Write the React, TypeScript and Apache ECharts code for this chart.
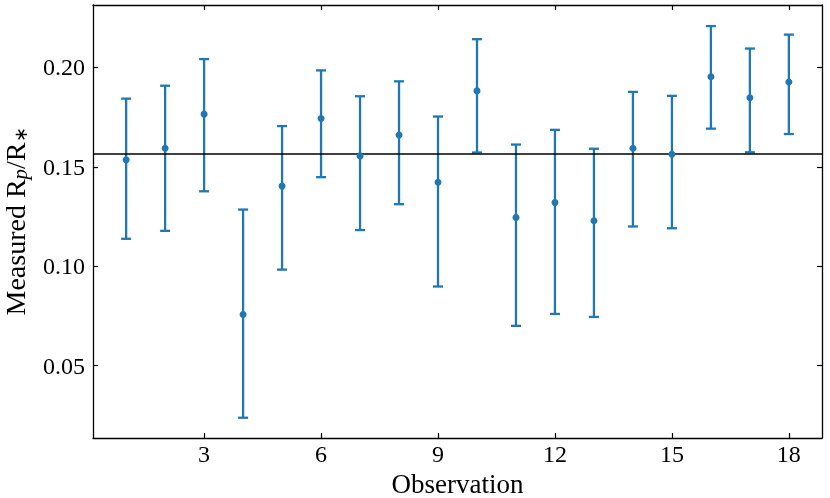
import React, { useEffect, useRef } from "react";
import * as echarts from "echarts";

const observations = [1, 2, 3, 4, 5, 6, 7, 8, 9, 10, 11, 12, 13, 14, 15, 16, 17, 18];
const measured = [0.1535, 0.1593, 0.1765, 0.0757, 0.1403, 0.1743, 0.1555, 0.166, 0.1422, 0.1882, 0.1245, 0.132, 0.1229, 0.1593, 0.1563, 0.1953, 0.1847, 0.1927];
const lowerBound = [0.1138, 0.1178, 0.1377, 0.0238, 0.0983, 0.1448, 0.1182, 0.1312, 0.0898, 0.1572, 0.07, 0.076, 0.0745, 0.12, 0.1191, 0.1692, 0.1573, 0.1665];
const upperBound = [0.1843, 0.1908, 0.2042, 0.1285, 0.1705, 0.1985, 0.1855, 0.193, 0.1753, 0.2142, 0.1612, 0.1686, 0.1591, 0.1877, 0.1857, 0.2208, 0.2095, 0.2165];
const referenceLevel = 0.1564;
const xTicks = [3, 6, 9, 12, 15, 18];
const yTicks = [0.05, 0.1, 0.15, 0.2];

const BLUE = "#1f77b4";
const FONT = "Liberation Serif";

export default function App() {
  const ref = useRef<HTMLDivElement>(null);
  useEffect(() => {
    if (!ref.current) return;
    const chart = echarts.init(ref.current, null, { renderer: "svg" });
    const xMin = 0.15, xMax = 18.85, yMin = 0.0136, yMax = 0.2314;
    const axisLine = { show: true, onZero: false, lineStyle: { color: "#000", width: 1.3 } };
    const tickStyle = (vals: number[]) => ({
      show: true, inside: true, length: 5, customValues: vals,
      lineStyle: { color: "#000", width: 1.2 },
    });
    const errData = observations.map((x, i) => [x, lowerBound[i], upperBound[i]]);
    const option: any = {
      animation: false,
      grid: { left: 93, right: 8, top: 5, bottom: 60, containLabel: false, outerBoundsMode: "none" },
      xAxis: [
        {
          type: "value", position: "bottom", min: xMin, max: xMax,
          axisLine, axisTick: tickStyle(xTicks), splitLine: { show: false },
          axisLabel: { customValues: xTicks, margin: 4, color: "#000", fontFamily: FONT, fontSize: 24 },
          name: "Observation", nameLocation: "middle", nameGap: 30,
          nameTextStyle: { color: "#000", fontFamily: FONT, fontSize: 27, lineHeight: 24 },
        },
        {
          type: "value", position: "top", min: xMin, max: xMax,
          axisLine, axisTick: tickStyle(xTicks), splitLine: { show: false },
          axisLabel: { show: false },
        },
      ],
      yAxis: [
        {
          type: "value", position: "left", min: yMin, max: yMax,
          axisLine, axisTick: tickStyle(yTicks), splitLine: { show: false },
          axisLabel: {
            customValues: yTicks, margin: 8, color: "#000", fontFamily: FONT, fontSize: 24,
            formatter: (v: number) => v.toFixed(2),
          },
          name: "{m|Measured R}{s|p}{m|/R}{t|∗}", nameLocation: "middle", nameGap: 63,
          nameTextStyle: {
            color: "#000", fontFamily: FONT, fontSize: 28,
            rich: {
              m: { fontFamily: FONT, fontSize: 28, color: "#000" },
              s: { fontFamily: FONT, fontSize: 21, fontStyle: "italic", color: "#000", verticalAlign: "bottom", padding: [9, 0, 0, 0] },
              t: { fontFamily: FONT, fontSize: 18, color: "#000", verticalAlign: "bottom", padding: [6, 0, 0, 0] },
            },
          },
        },
        {
          type: "value", position: "right", min: yMin, max: yMax,
          axisLine, axisTick: tickStyle(yTicks), splitLine: { show: false },
          axisLabel: { show: false },
        },
      ],
      series: [
        {
          type: "custom",
          xAxisIndex: 0, yAxisIndex: 0,
          data: errData,
          z: 2,
          renderItem: (params: any, api: any) => {
            const x = api.value(0);
            const lo = api.coord([x, api.value(1)]);
            const hi = api.coord([x, api.value(2)]);
            const cap = 5;
            const style = { stroke: BLUE, lineWidth: 2.3 };
            return {
              type: "group",
              children: [
                { type: "line", shape: { x1: lo[0], y1: lo[1], x2: hi[0], y2: hi[1] }, style },
                { type: "line", shape: { x1: lo[0] - cap, y1: lo[1], x2: lo[0] + cap, y2: lo[1] }, style },
                { type: "line", shape: { x1: hi[0] - cap, y1: hi[1], x2: hi[0] + cap, y2: hi[1] }, style },
              ],
            };
          },
        },
        {
          type: "scatter",
          xAxisIndex: 0, yAxisIndex: 0,
          data: observations.map((x, i) => [x, measured[i]]),
          symbol: "circle", symbolSize: 7,
          itemStyle: { color: BLUE, opacity: 1 },
          z: 4,
          markLine: {
            silent: true, symbol: "none", label: { show: false }, precision: 4,
            lineStyle: { color: "#000", width: 1.6, type: "solid" },
            data: [{ yAxis: referenceLevel }],
            z: 3,
          },
        },
      ],
    };
    chart.setOption(option);
    return () => chart.dispose();
  }, []);
  return <div ref={ref} style={{ position: "fixed", left: 0, top: 0, width: 830, height: 498 }} />;
}
